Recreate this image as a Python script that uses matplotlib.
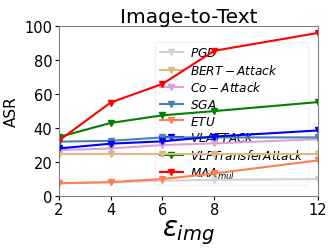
import matplotlib
matplotlib.use("Agg")
import matplotlib.pyplot as plt

eps = [2, 4, 6, 8, 12]

pgd = [7.5, 8, 9, 9.5, 10]
bert = [25, 25, 25, 25, 25]
co_attack = [27, 28, 30, 31, 33.5]
sga = [32, 32.5, 34.5, 34.5, 34.5]
etu = [7.5, 8.2, 10, 13.3, 21]
vlattack = [28, 30.8, 32.2, 35, 38.6]
vlp = [34.7, 43, 47.5, 50, 55.3]
maa = [32.5, 55, 66, 85.5, 96]

series = [
    ("$PGD$", pgd, "lightgray"),
    ("$BERT-Attack$", bert, "burlywood"),
    ("$Co-Attack$", co_attack, "plum"),
    ("$SGA$", sga, "steelblue"),
    ("$ETU$", etu, "coral"),
    ("$VLATTACK$", vlattack, "blue"),
    ("$VLPTransferAttack$", vlp, "green"),
    ("$MAA_{mul}$", maa, "red"),
]

fig, ax = plt.subplots(figsize=(3.35, 2.51), dpi=100)
for label, vals, c in series:
    ax.plot(eps, vals, marker="v", markersize=4, linewidth=1.5, color=c, label=label)

ax.set_xlim(2, 12)
ax.set_ylim(0, 100)
ax.set_xticks(eps)
ax.set_yticks([0, 20, 40, 60, 80, 100])
ax.tick_params(labelsize=10.5, length=3, pad=1.5)
for s in ax.spines.values():
    s.set_color("gray")
ax.set_title("Image-to-Text", fontsize=14.5, pad=2)
ax.set_ylabel("ASR", fontsize=11, labelpad=4)
ax.set_xlabel(r"$\epsilon_{img}$", fontsize=20, labelpad=0)
leg = ax.legend(fontsize=8.7, loc="lower right", bbox_to_anchor=(0.985, 0.03),
                handlelength=1.9, handletextpad=0.6, borderpad=0.35,
                labelspacing=0.3, framealpha=0.25)
leg.set_zorder(1)

fig.subplots_adjust(left=0.175, right=0.95, top=0.892, bottom=0.215)
fig.savefig("out.png")
